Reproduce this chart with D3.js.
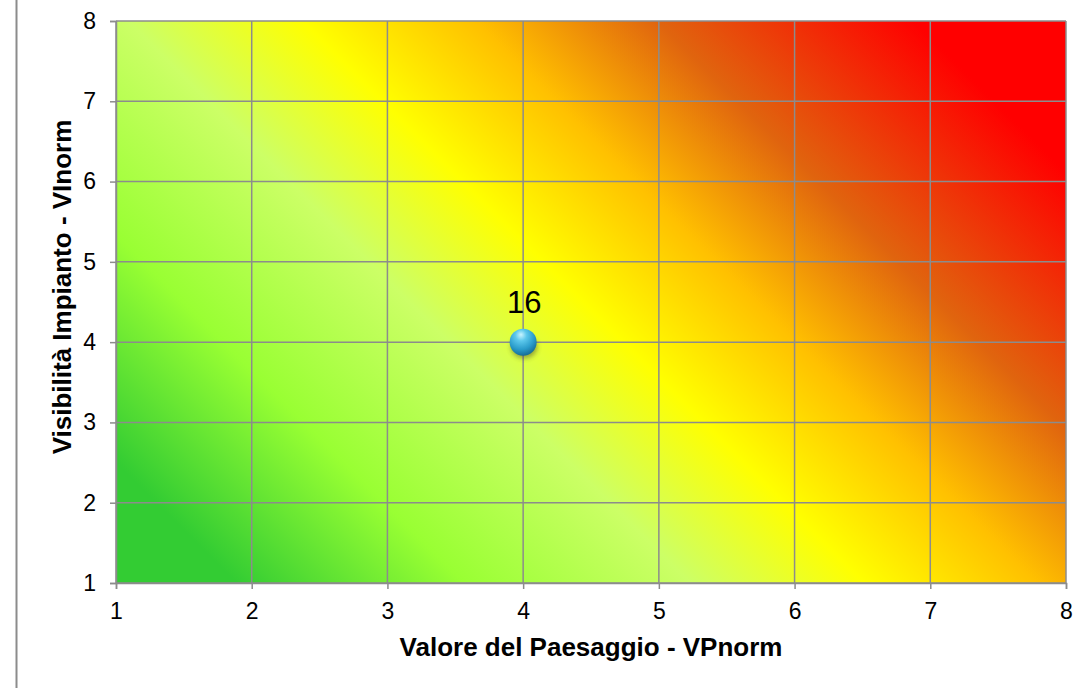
<!DOCTYPE html>
<html>
<head>
<meta charset="utf-8">
<script src="https://cdn.jsdelivr.net/npm/d3@7"></script>
<style>
  body { margin: 0; background: #fff; }
  svg text { font-family: "Liberation Sans", Arial, sans-serif; fill: #000; }
</style>
</head>
<body>
<div id="chart"></div>
<script>
// Axis ticks and the single point
const xTicks = [1, 2, 3, 4, 5, 6, 7, 8];
const yTicks = [1, 2, 3, 4, 5, 6, 7, 8];
const pointX = [4];
const pointY = [4];
const pointLabel = ["16"];

const xTitle = "Valore del Paesaggio - VPnorm";
const yTitle = "Visibilità Impianto - VInorm";

// Background colour ramp (bottom-left to top-right)
const ramp = [
    { offset: 0.00, color: "#33cc33" },
    { offset: 0.08, color: "#33cc33" },
    { offset: 0.23, color: "#99ff33" },
    { offset: 0.38, color: "#ccff66" },
    { offset: 0.495, color: "#ffff00" },
    { offset: 0.61, color: "#ffc000" },
    { offset: 0.73, color: "#e0640e" },
    { offset: 0.90, color: "#ff0000" },
    { offset: 1.00, color: "#ff0000" }
];

const W = 1089, H = 688;
const margin = { top: 21, right: 23, bottom: 105, left: 116 };
const width = W - margin.left - margin.right;
const height = H - margin.top - margin.bottom;

const svgRoot = d3.select("#chart")
    .append("svg")
    .attr("width", W)
    .attr("height", H);

// outer chart border (only left edge visible)
svgRoot.append("line")
    .attr("x1", 16.5).attr("x2", 16.5)
    .attr("y1", 0).attr("y2", H)
    .attr("stroke", "#8c8c8c")
    .attr("stroke-width", 2);

const defs = svgRoot.append("defs");

const svg = svgRoot.append("g")
    .attr("transform", `translate(${margin.left},${margin.top})`);

const x = d3.scaleLinear().domain([1, 8]).range([0, width]);
const y = d3.scaleLinear().domain([1, 8]).range([height, 0]);

// diagonal gradient, 45 degrees in pixel space
const half = (width + height) / 2;
const lg = defs.append("linearGradient")
    .attr("id", "bg")
    .attr("gradientUnits", "userSpaceOnUse")
    .attr("x1", 0).attr("y1", height)
    .attr("x2", half).attr("y2", height - half);
lg.selectAll("stop")
    .data(ramp)
    .enter()
    .append("stop")
    .attr("offset", d => d.offset)
    .attr("stop-color", d => d.color);

svg.append("rect")
    .attr("x", 0).attr("y", 0)
    .attr("width", width).attr("height", height)
    .attr("fill", "url(#bg)");

// grid lines
svg.append("g")
    .selectAll("line")
    .data(xTicks)
    .enter()
    .append("line")
    .attr("x1", d => x(d)).attr("x2", d => x(d))
    .attr("y1", 0).attr("y2", height)
    .attr("stroke", "#8c8c8c")
    .attr("stroke-width", 1.5);

svg.append("g")
    .selectAll("line")
    .data(yTicks)
    .enter()
    .append("line")
    .attr("x1", 0).attr("x2", width)
    .attr("y1", d => y(d)).attr("y2", d => y(d))
    .attr("stroke", "#8c8c8c")
    .attr("stroke-width", 1.5);

// axes
const xAxis = svg.append("g")
    .attr("transform", `translate(0,${height})`)
    .call(d3.axisBottom(x).tickValues(xTicks).tickSize(6).tickPadding(14).tickFormat(d3.format("d")));

const yAxis = svg.append("g")
    .call(d3.axisLeft(y).tickValues(yTicks).tickSize(6).tickPadding(14).tickFormat(d3.format("d")));

[xAxis, yAxis].forEach(a => {
    a.select(".domain").attr("stroke", "#8c8c8c").attr("stroke-width", 1.5);
    a.selectAll(".tick line").attr("stroke", "#8c8c8c").attr("stroke-width", 1.5);
    a.selectAll(".tick text")
        .style("font-family", "'Liberation Sans', Arial, sans-serif")
        .style("font-size", "23px")
        .attr("fill", "#000");
});

// axis titles
svg.append("text")
    .attr("x", width / 2)
    .attr("y", height + 73)
    .attr("text-anchor", "middle")
    .style("font-size", "26px")
    .style("font-weight", "bold")
    .text(xTitle);

svg.append("text")
    .attr("transform", "rotate(-90)")
    .attr("x", -(287 - margin.top))
    .attr("y", -45)
    .attr("text-anchor", "middle")
    .style("font-size", "26px")
    .style("font-weight", "bold")
    .text(yTitle);

// sphere marker
const rg = defs.append("radialGradient")
    .attr("id", "ball")
    .attr("cx", "42%").attr("cy", "30%").attr("r", "70%")
    .attr("fx", "42%").attr("fy", "22%");
rg.append("stop").attr("offset", 0).attr("stop-color", "#c8f4ff");
rg.append("stop").attr("offset", 0.3).attr("stop-color", "#5cc8ec");
rg.append("stop").attr("offset", 0.7).attr("stop-color", "#2a9ccb");
rg.append("stop").attr("offset", 1).attr("stop-color", "#176f98");

const blur = defs.append("filter").attr("id", "shadow")
    .attr("x", "-50%").attr("y", "-50%").attr("width", "200%").attr("height", "200%");
blur.append("feGaussianBlur").attr("stdDeviation", 2.5);

const pts = pointX.map((v, i) => ({ x: v, y: pointY[i], label: pointLabel[i] }));

svg.selectAll(".shadow")
    .data(pts)
    .enter()
    .append("ellipse")
    .attr("cx", d => x(d.x) + 1)
    .attr("cy", d => y(d.y) + 5)
    .attr("rx", 13)
    .attr("ry", 11)
    .attr("fill", "#333")
    .attr("opacity", 0.45)
    .attr("filter", "url(#shadow)");

svg.selectAll(".dot")
    .data(pts)
    .enter()
    .append("circle")
    .attr("cx", d => x(d.x))
    .attr("cy", d => y(d.y))
    .attr("r", 13.5)
    .attr("fill", "url(#ball)");

svg.selectAll(".lbl")
    .data(pts)
    .enter()
    .append("text")
    .attr("x", d => x(d.x) + 1)
    .attr("y", d => y(d.y) - 29)
    .attr("text-anchor", "middle")
    .style("font-size", "31px")
    .text(d => d.label);
</script>
</body>
</html>
